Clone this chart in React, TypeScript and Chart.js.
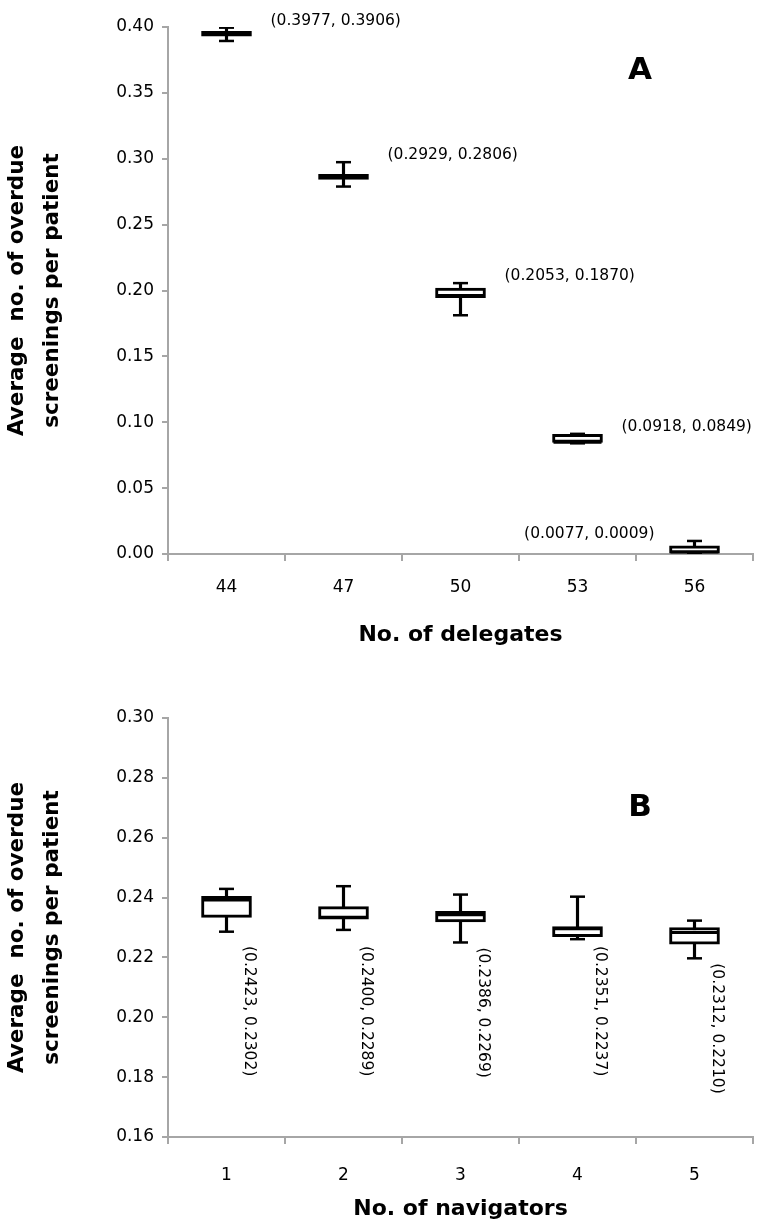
import React, { useEffect, useRef } from 'react';
import { Chart, registerables } from 'chart.js';

Chart.register(...registerables);

const FONT = '"DejaVu Sans", "Liberation Sans", sans-serif';
const AXIS_GRAY = '#a6a6a6';

// ---------- Panel A: No. of delegates ----------
const delegates = ['44', '47', '50', '53', '56'];
const aMin = [0.3894, 0.2789, 0.1812, 0.0840, 0.0002];
const aQ1 = [0.3931, 0.2843, 0.1945, 0.0847, 0.0007];
const aMedian = [0.3950, 0.2862, 0.1962, 0.0849, 0.0015];
const aQ3 = [0.3968, 0.2882, 0.2019, 0.0909, 0.0062];
const aMax = [0.3995, 0.2974, 0.2056, 0.0912, 0.0099];
const aLabels = [
  '(0.3977, 0.3906)',
  '(0.2929, 0.2806)',
  '(0.2053, 0.1870)',
  '(0.0918, 0.0849)',
  '(0.0077, 0.0009)',
];
const aTicks = { min: 0, max: 0.4, step: 0.05 };

// ---------- Panel B: No. of navigators ----------
const navigators = ['1', '2', '3', '4', '5'];
const bMin = [0.2286, 0.2292, 0.2250, 0.2261, 0.2197];
const bQ1 = [0.2334, 0.2328, 0.2319, 0.2269, 0.2244];
const bMedian = [0.2392, 0.2334, 0.2343, 0.2296, 0.2283];
const bQ3 = [0.2404, 0.2370, 0.2354, 0.2303, 0.2300];
const bMax = [0.2429, 0.2438, 0.2410, 0.2403, 0.2323];
const bLabels = [
  '(0.2423, 0.2302)',
  '(0.2400, 0.2289)',
  '(0.2386, 0.2269)',
  '(0.2351, 0.2237)',
  '(0.2312, 0.2210)',
];
const bTicks = { min: 0.16, max: 0.3, step: 0.02 };
const bLabelFloor = 0.2255;

const yTitle = ['Average  no. of overdue', 'screenings per patient'];

type PanelCfg = {
  labels: string[];
  min: number[];
  q1: number[];
  med: number[];
  q3: number[];
  max: number[];
  notes: string[];
  ticks: { min: number; max: number; step: number };
  xTitle: string;
  letter: string;
  letterPos: [number, number];
  vertical: boolean;
  padTop: number;
  xHeight: number;
  xTickPad: number;
  xTitlePadBottom: number;
  xTitleLineHeight: number;
};

function buildConfig(p: PanelCfg): any {
  const notePlugin = {
    id: 'notes' + p.letter,
    afterDatasetsDraw(chart: any) {
      const { ctx, chartArea } = chart;
      const xs = chart.scales.x;
      const ys = chart.scales.y;
      ctx.save();
      ctx.fillStyle = '#000';
      ctx.font = `15.5px ${FONT}`;
      p.notes.forEach((t, i) => {
        const px = xs.getPixelForValue(i);
        if (p.vertical) {
          const py = Math.max(ys.getPixelForValue(p.min[i]), ys.getPixelForValue(bLabelFloor)) + 5;
          ctx.save();
          ctx.translate(px + 23, py);
          ctx.rotate(Math.PI / 2);
          ctx.textAlign = 'left';
          ctx.textBaseline = 'middle';
          ctx.fillText(t, 0, 0);
          ctx.restore();
        } else {
          const py = ys.getPixelForValue(p.max[i]) - 7;
          const w = ctx.measureText(t).width;
          ctx.textBaseline = 'middle';
          if (px + 44 + w <= chartArea.right) {
            ctx.textAlign = 'left';
            ctx.fillText(t, px + 44, py);
          } else {
            ctx.textAlign = 'right';
            ctx.fillText(t, px - 40, py);
          }
        }
      });
      ctx.font = `bold 31px ${FONT}`;
      ctx.textAlign = 'center';
      ctx.textBaseline = 'middle';
      ctx.fillText(p.letter, p.letterPos[0], p.letterPos[1]);
      ctx.restore();
    },
  };

  return {
    type: 'bar',
    data: {
      labels: p.labels,
      datasets: [
        {
          type: 'bar',
          label: 'whisker',
          data: p.min.map((v, i) => [v, p.max[i]]),
          backgroundColor: '#000',
          borderWidth: 0,
          barThickness: 2.5,
          grouped: false,
          order: 4,
        },
        {
          type: 'bar',
          label: 'box',
          data: p.q1.map((v, i) => [v, p.q3[i]]),
          backgroundColor: '#fff',
          borderColor: '#000',
          borderWidth: 3,
          borderSkipped: false,
          barThickness: 50,
          grouped: false,
          order: 3,
        },
        {
          type: 'line',
          label: 'median',
          data: p.med,
          showLine: false,
          pointStyle: 'line',
          pointRadius: 24,
          pointHoverRadius: 24,
          pointBorderWidth: 3,
          pointBorderColor: '#000',
          borderColor: '#000',
          order: 1,
        },
        {
          type: 'line',
          label: 'max',
          data: p.max,
          showLine: false,
          pointStyle: 'line',
          pointRadius: 7.5,
          pointHoverRadius: 7.5,
          pointBorderWidth: 2.5,
          pointBorderColor: '#000',
          borderColor: '#000',
          order: 2,
        },
        {
          type: 'line',
          label: 'min',
          data: p.min,
          showLine: false,
          pointStyle: 'line',
          pointRadius: 7.5,
          pointHoverRadius: 7.5,
          pointBorderWidth: 2.5,
          pointBorderColor: '#000',
          borderColor: '#000',
          order: 2,
        },
      ],
    },
    options: {
      responsive: false,
      animation: false,
      devicePixelRatio: 1,
      layout: { padding: { left: 0, right: 2, top: p.padTop, bottom: 0 } },
      plugins: {
        legend: { display: false },
        tooltip: { enabled: false },
      },
      events: [],
      scales: {
        x: {
          type: 'category',
          offset: true,
          grid: {
            offset: true,
            drawOnChartArea: false,
            drawTicks: true,
            tickLength: 7,
            color: AXIS_GRAY,
            lineWidth: 2,
          },
          border: { display: true, color: AXIS_GRAY, width: 2 },
          ticks: {
            color: '#000',
            font: { family: FONT, size: 17 },
            padding: p.xTickPad,
            maxRotation: 0,
          },
          title: {
            display: true,
            text: p.xTitle,
            color: '#000',
            font: { family: FONT, size: 22, weight: 'bold', lineHeight: p.xTitleLineHeight },
            padding: { top: 0, bottom: p.xTitlePadBottom },
          },
          afterFit: (scale: any) => {
            scale.height = p.xHeight;
          },
        },
        y: {
          type: 'linear',
          min: p.ticks.min,
          max: p.ticks.max,
          grid: {
            drawOnChartArea: false,
            drawTicks: true,
            tickLength: 6,
            color: AXIS_GRAY,
            lineWidth: 2,
          },
          border: { display: true, color: AXIS_GRAY, width: 2 },
          ticks: {
            stepSize: p.ticks.step,
            color: '#000',
            font: { family: FONT, size: 17 },
            padding: 8,
            callback: (v: any) => Number(v).toFixed(2),
          },
          title: {
            display: true,
            text: yTitle,
            color: '#000',
            font: { family: FONT, size: 21.5, weight: 'bold', lineHeight: 1.63 },
            padding: { top: 0, bottom: 0 },
          },
          afterFit: (scale: any) => {
            scale.width = 168;
          },
        },
      },
    },
    plugins: [notePlugin],
  };
}

function Panel({ cfg, width, height }: { cfg: PanelCfg; width: number; height: number }) {
  const ref = useRef<HTMLCanvasElement | null>(null);
  useEffect(() => {
    if (!ref.current) return;
    const chart = new Chart(ref.current, buildConfig(cfg));
    return () => chart.destroy();
  }, [cfg]);
  return <canvas ref={ref} width={width} height={height} style={{ display: 'block', width, height }} />;
}

const panelA: PanelCfg = {
  labels: delegates,
  min: aMin,
  q1: aQ1,
  med: aMedian,
  q3: aQ3,
  max: aMax,
  notes: aLabels,
  ticks: aTicks,
  xTitle: 'No. of delegates',
  letter: 'A',
  letterPos: [640, 71],
  vertical: false,
  padTop: 15,
  xHeight: 106,
  xTickPad: 16,
  xTitlePadBottom: 12,
  xTitleLineHeight: 1.2,
};

const panelB: PanelCfg = {
  labels: navigators,
  min: bMin,
  q1: bQ1,
  med: bMedian,
  q3: bQ3,
  max: bMax,
  notes: bLabels,
  ticks: bTicks,
  xTitle: 'No. of navigators',
  letter: 'B',
  letterPos: [640, 148],
  vertical: true,
  padTop: 58,
  xHeight: 83,
  xTickPad: 21,
  xTitlePadBottom: 0,
  xTitleLineHeight: 1.0,
};

export default function App() {
  return (
    <div style={{ position: 'absolute', left: 0, top: 0, width: 780, height: 1220, background: '#fff' }}>
      <div style={{ position: 'absolute', left: 0, top: 0 }}>
        <Panel cfg={panelA} width={780} height={660} />
      </div>
      <div style={{ position: 'absolute', left: 0, top: 660 }}>
        <Panel cfg={panelB} width={780} height={560} />
      </div>
    </div>
  );
}
